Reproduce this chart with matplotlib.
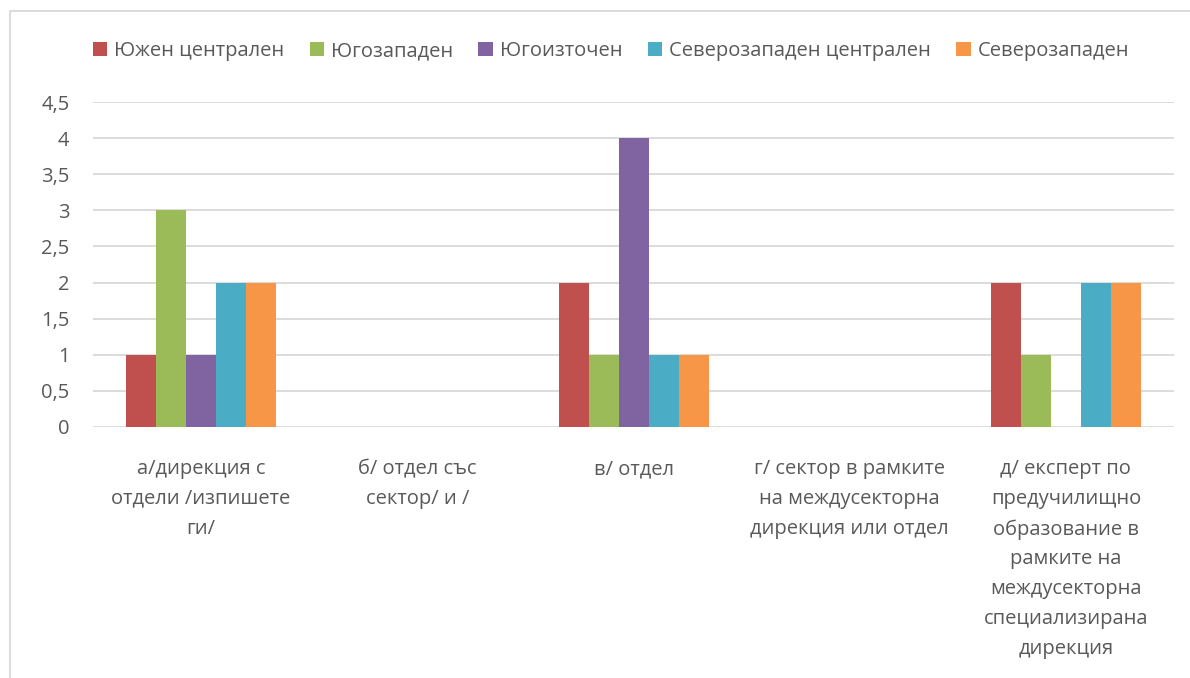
import numpy as np
import matplotlib
matplotlib.use("Agg")
import matplotlib.pyplot as plt
from matplotlib.patches import Rectangle

plt.rcParams['font.family'] = ['Open Sans', 'DejaVu Sans']

categories = [
    "а/дирекция с\nотдели /изпишете\nги/",
    "б/ отдел със\nсектор/ и /",
    "в/ отдел",
    "г/ сектор в рамките\nна междусекторна\nдирекция или отдел",
    "д/ експерт по\nпредучилищно\nобразование в\nрамките на\nмеждусекторна\nспециализирана\nдирекция",
]
series = ["Южен централен", "Югозападен", "Югоизточен",
          "Северозападен централен", "Северозападен"]
colors = ["#C0504D", "#9BBB59", "#8064A2", "#4BACC6", "#F79646"]

yuzhen_tsentralen = [1, 0, 2, 0, 2]
yugozapaden = [3, 0, 1, 0, 1]
yugoiztochen = [1, 0, 4, 0, 0]
severozapaden_ts = [2, 0, 1, 0, 2]
severozapaden = [2, 0, 1, 0, 2]
values = [yuzhen_tsentralen, yugozapaden, yugoiztochen, severozapaden_ts, severozapaden]

yticks = [0, 0.5, 1, 1.5, 2, 2.5, 3, 3.5, 4, 4.5]
ytick_labels = [str(v).replace('.', ',') if v != int(v) else str(int(v)) for v in yticks]

W, H = 1190, 678
fig = plt.figure(figsize=(W / 100, H / 100), dpi=100)
fig.patch.set_facecolor("white")

# outer chart border (only left/top visible in the crop)
fig.patches.append(Rectangle((10 / W, -0.1), 1.2, 1 - 11 / H + 0.1,
                             transform=fig.transFigure, fill=False,
                             edgecolor="#D9D9D9", linewidth=1.3))

ax = fig.add_axes([93 / W, 1 - 427 / H, (1174 - 93) / W, (427 - 102) / H])
x = np.arange(len(categories))
bw = 30 / 216.2
for i, (name, vals, c) in enumerate(zip(series, values, colors)):
    h = np.array(vals, dtype=float)
    ax.bar(x + (i - 2) * bw, h, width=bw, color=c, label=name, linewidth=0, zorder=3)

ax.set_xlim(-0.5, len(categories) - 0.5)
ax.set_ylim(0, 4.5)
ax.set_yticks(yticks)
ax.set_yticklabels(ytick_labels)
ax.yaxis.grid(True, color="#D9D9D9", linewidth=1.3, zorder=0)
ax.set_axisbelow(True)
for s in ax.spines.values():
    s.set_visible(False)
ax.tick_params(axis="y", length=0, pad=17, labelsize=14.5, labelcolor="#595959")
ax.tick_params(axis="x", length=0, pad=23, labelsize=14.5, labelcolor="#595959")
ax.set_xticks(x)
ax.set_xticklabels(categories, linespacing=1.66)
for lbl in ax.get_xticklabels():
    lbl.set_horizontalalignment("center")
    lbl.set_verticalalignment("top")

fig.legend(loc="center", bbox_to_anchor=(611 / W, 1 - 51 / H), ncol=5,
           frameon=False, fontsize=14.5, labelcolor="#595959",
           handlelength=0.72, handleheight=0.72, handletextpad=0.35,
           columnspacing=1.25)

fig.savefig("out.png", dpi=100)
